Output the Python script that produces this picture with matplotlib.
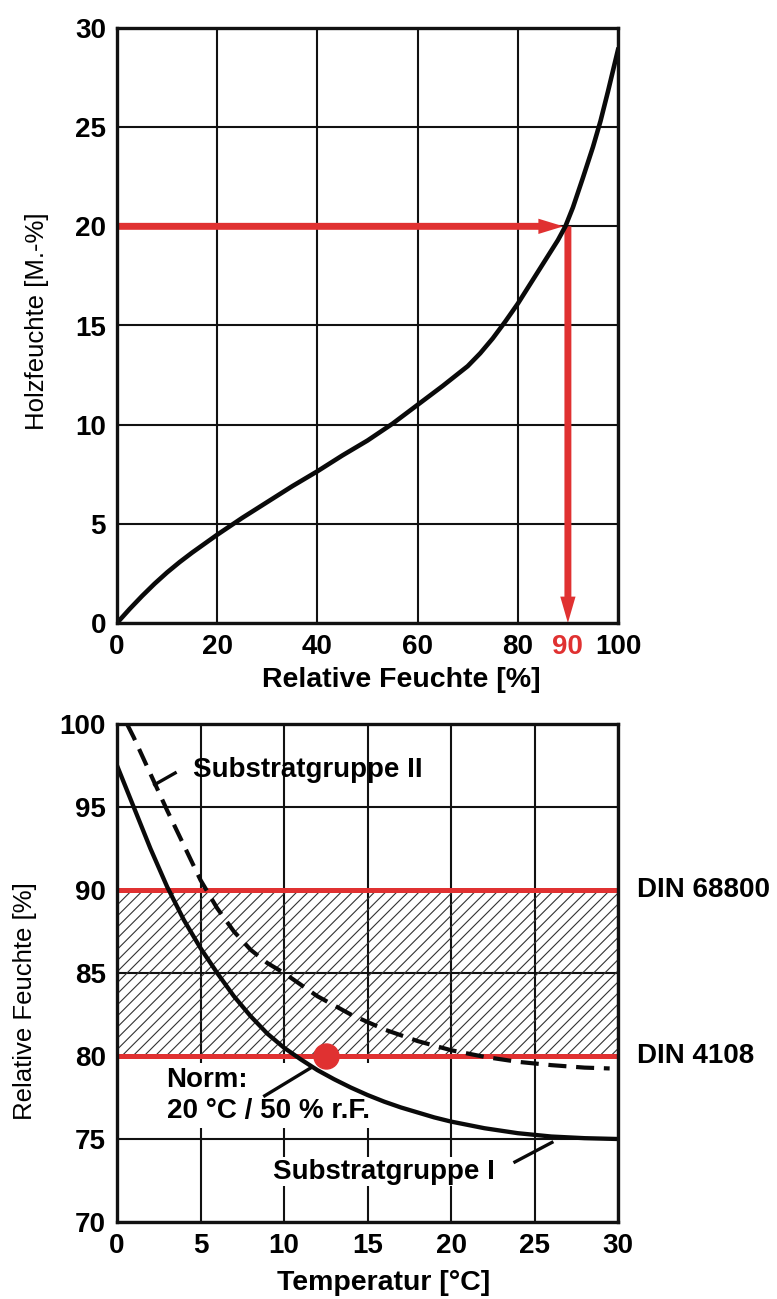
import matplotlib
matplotlib.use("Agg")
import matplotlib.pyplot as plt

plt.rcParams['font.family'] = ['Liberation Sans', 'DejaVu Sans']
plt.rcParams['hatch.linewidth'] = 0.8
plt.rcParams['lines.scale_dashes'] = False

RED = '#e03131'

# ---------- data: top chart (sorption isotherm) ----------
rf_top = [0, 2.5, 5, 7.5, 10, 12.5, 15, 17.5, 20, 25, 30, 35, 40, 45, 50, 55, 60, 65, 70,
          72.5, 75, 77.5, 80, 83, 86, 88, 89.5, 91, 93, 95, 96.5, 98, 100]
holz = [0, 0.7, 1.36, 1.98, 2.55, 3.07, 3.55, 4.0, 4.45, 5.3, 6.1, 6.9, 7.65, 8.45, 9.2,
        10.05, 11.0, 11.95, 12.95, 13.6, 14.35, 15.2, 16.1, 17.3, 18.5, 19.3, 20.0, 20.95,
        22.45, 24.0, 25.3, 26.8, 28.9]
top_xticks = [0, 20, 40, 60, 80, 100]
top_yticks = [0, 5, 10, 15, 20, 25, 30]
marked_rf = 90
marked_holz = 20

# ---------- data: bottom chart ----------
temp_I = [0, 1, 2, 3, 4, 5, 6, 7, 8, 9, 10, 11, 12, 13, 14, 15, 16, 17, 18, 19, 20, 22, 24,
          26, 28, 30]
rh_I = [97.5, 95.0, 92.5, 90.2, 88.2, 86.5, 85.0, 83.6, 82.4, 81.35, 80.5, 79.8, 79.15,
        78.6, 78.1, 77.65, 77.25, 76.9, 76.6, 76.3, 76.05, 75.65, 75.35, 75.15, 75.05, 75.0]
temp_II = [0.6, 1, 2, 2.5, 3, 4, 5, 6, 7, 8, 9, 10, 12, 14, 16, 18, 20, 22, 24, 26, 28, 29.5]
rh_II = [100.0, 99.2, 97.0, 95.9, 94.8, 92.7, 90.6, 88.9, 87.5, 86.4, 85.6, 85.0, 83.6, 82.5,
         81.6, 80.9, 80.35, 79.95, 79.65, 79.45, 79.3, 79.25]
din_68800 = 90
din_4108 = 80
norm_point = (12.5, 80)
bot_xticks = [0, 5, 10, 15, 20, 25, 30]
bot_yticks = [70, 75, 80, 85, 90, 95, 100]

W, H = 777, 1299
fig = plt.figure(figsize=(W / 100, H / 100), dpi=100)
TICK_FS = 20

def style_axes(ax):
    for s in ax.spines.values():
        s.set_linewidth(2.4)
        s.set_color('#111111')
        s.set_zorder(10)
    ax.tick_params(length=0, pad=8, labelsize=TICK_FS)
    for lab in ax.get_xticklabels() + ax.get_yticklabels():
        lab.set_fontweight('bold')
    ax.grid(True, which='major', color='#111111', lw=1.5, zorder=0)
    ax.set_axisbelow(True)

# ---------------- top ----------------
ax1 = fig.add_axes([117 / W, 1 - 623 / H, 501 / W, 595 / H])
ax1.set_xlim(0, 100)
ax1.set_ylim(0, 30)
ax1.set_xticks(top_xticks)
ax1.set_yticks(top_yticks)
ax1.set_xticks([marked_rf], minor=True)
ax1.set_xticklabels([str(marked_rf)], minor=True)
style_axes(ax1)
ax1.tick_params(which='minor', length=0, pad=8, labelsize=TICK_FS, labelcolor=RED)
for lab in ax1.get_xticklabels(minor=True):
    lab.set_fontweight('bold')

ax1.plot(rf_top, holz, color='#0a0a0a', lw=3.3, zorder=5, solid_joinstyle='round')
ax1.annotate('', xy=(marked_rf - 0.9, marked_holz), xytext=(0, marked_holz),
             arrowprops=dict(width=5, headwidth=11, headlength=18, facecolor=RED,
                             edgecolor='none', shrink=0), zorder=4)
ax1.annotate('', xy=(marked_rf, 0), xytext=(marked_rf, marked_holz),
             arrowprops=dict(width=5, headwidth=11, headlength=19, facecolor=RED,
                             edgecolor='none', shrink=0), zorder=4)

fig.text(401 / W, 1 - 680 / H, 'Relative Feuchte [%]', ha='center', va='center',
         fontsize=20.5, fontweight='bold')
fig.text(37 / W, 1 - 321 / H, 'Holzfeuchte [M.-%]', ha='center', va='center',
         fontsize=18.5, rotation=90)

# ---------------- bottom ----------------
ax2 = fig.add_axes([117 / W, 1 - 1222 / H, 501 / W, 498 / H])
ax2.set_xlim(0, 30)
ax2.set_ylim(70, 100)
ax2.set_xticks(bot_xticks)
ax2.set_yticks(bot_yticks)
style_axes(ax2)

ax2.axhspan(din_4108, din_68800, facecolor='none', edgecolor='#333333', lw=0,
            hatch='///', zorder=1)
ax2.axhline(din_68800, color=RED, lw=3.6, zorder=3)
ax2.axhline(din_4108, color=RED, lw=3.6, zorder=3)

ax2.plot(temp_II, rh_II, color='#0a0a0a', lw=3.0, ls=(0, (13, 7)), zorder=4)
ax2.plot(temp_I, rh_I, color='#0a0a0a', lw=3.1, zorder=4, solid_joinstyle='round')
ax2.plot([norm_point[0]], [norm_point[1]], 'o', color=RED, ms=18, zorder=6)

lead_kw = dict(color='#0a0a0a', lw=2.4, zorder=5, solid_capstyle='butt')
ax2.plot([2.17, 3.57], [96.3, 97.1], **lead_kw)
ax2.plot([8.76, 11.66], [77.55, 79.32], **lead_kw)
ax2.plot([23.74, 26.13], [73.57, 74.84], **lead_kw)

ax2.text(4.55, 97.2, 'Substratgruppe II', ha='left', va='center', fontsize=20,
         fontweight='bold', zorder=5)
ax2.text(2.97, 79.35, 'Norm:\n20 °C / 50 % r.F.', ha='left', va='top', fontsize=20,
         fontweight='bold', linespacing=1.25, zorder=2,
         bbox=dict(facecolor='white', edgecolor='none', pad=3))
ax2.text(9.36, 73.03, 'Substratgruppe I', ha='left', va='center', fontsize=20,
         fontweight='bold', zorder=2,
         bbox=dict(facecolor='white', edgecolor='none', pad=1))
ax2.text(31.15, din_68800, 'DIN 68800', ha='left', va='center', fontsize=20,
         fontweight='bold', clip_on=False)
ax2.text(31.15, din_4108, 'DIN 4108', ha='left', va='center', fontsize=20,
         fontweight='bold', clip_on=False)

fig.text(384 / W, 1 - 1283 / H, 'Temperatur [°C]', ha='center', va='center',
         fontsize=20.5, fontweight='bold')
fig.text(25 / W, 1 - 1001 / H, 'Relative Feuchte [%]', ha='center', va='center',
         fontsize=18.5, rotation=90)

fig.savefig('out.png', dpi=100)
